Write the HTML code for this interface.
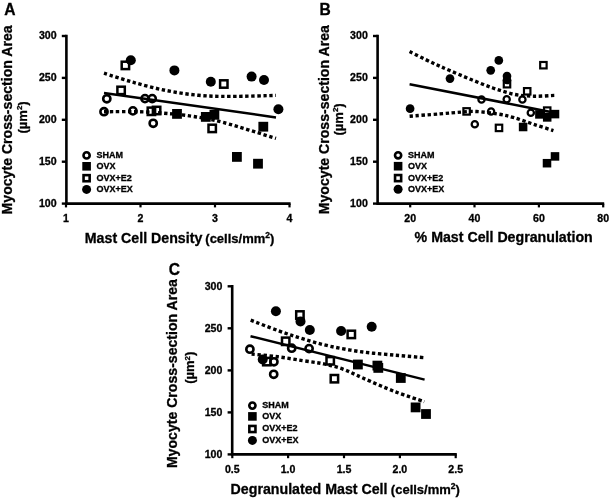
<!DOCTYPE html>
<html><head><meta charset="utf-8"><style>
html,body{margin:0;padding:0;background:#fff;overflow:hidden;width:610px;height:499px;}
svg{display:block;will-change:transform;}
text{font-family:"Liberation Sans", sans-serif;font-weight:bold;fill:#000;stroke:#000;stroke-width:0.3px;}
.tk{font-size:10.6px;}
.lg{font-size:9px;}
.tt{font-size:14.2px;}
.st{font-size:13px;}
.st2{font-size:13px;}
.pl{font-size:15.6px;}
.yt{font-size:14.1px;}
.dash{fill:none;stroke:#000;stroke-width:3.4;stroke-dasharray:3.4 2.6;}
.sol{fill:none;stroke:#000;stroke-width:2.5;}
</style></head><body>
<svg width="610" height="499" viewBox="0 0 610 499">
<rect width="610" height="499" fill="#fff"/>
<path d="M66.4,34.8 V203.6 H290.6" fill="none" stroke="#000" stroke-width="2.6"/>
<line x1="61.800000000000004" y1="36.0" x2="66.4" y2="36.0" stroke="#000" stroke-width="2.4"/>
<text x="56.60000000000001" y="39.3" text-anchor="end" class="tk">300</text>
<line x1="61.800000000000004" y1="77.9" x2="66.4" y2="77.9" stroke="#000" stroke-width="2.4"/>
<text x="56.60000000000001" y="81.2" text-anchor="end" class="tk">250</text>
<line x1="61.800000000000004" y1="119.8" x2="66.4" y2="119.8" stroke="#000" stroke-width="2.4"/>
<text x="56.60000000000001" y="123.1" text-anchor="end" class="tk">200</text>
<line x1="61.800000000000004" y1="161.7" x2="66.4" y2="161.7" stroke="#000" stroke-width="2.4"/>
<text x="56.60000000000001" y="165.0" text-anchor="end" class="tk">150</text>
<line x1="61.800000000000004" y1="203.6" x2="66.4" y2="203.6" stroke="#000" stroke-width="2.4"/>
<text x="56.60000000000001" y="206.9" text-anchor="end" class="tk">100</text>
<line x1="66.0" y1="203.6" x2="66.0" y2="207.4" stroke="#000" stroke-width="2.2"/>
<text x="66.0" y="222.0" text-anchor="middle" class="tk">1</text>
<line x1="140.5" y1="203.6" x2="140.5" y2="207.4" stroke="#000" stroke-width="2.2"/>
<text x="140.5" y="222.0" text-anchor="middle" class="tk">2</text>
<line x1="215.0" y1="203.6" x2="215.0" y2="207.4" stroke="#000" stroke-width="2.2"/>
<text x="215.0" y="222.0" text-anchor="middle" class="tk">3</text>
<line x1="289.5" y1="203.6" x2="289.5" y2="207.4" stroke="#000" stroke-width="2.2"/>
<text x="289.5" y="222.0" text-anchor="middle" class="tk">4</text>
<text x="4.3" y="15.0" class="pl">A</text>
<text transform="translate(12.2,119.9) rotate(-90)" text-anchor="middle" class="tt yt">Myocyte Cross-section Area</text>
<text transform="translate(26.6,117.4) rotate(-90)" text-anchor="middle" class="st">(&#181;m<tspan dy="-4.5" font-size="8">2</tspan><tspan dy="4.5">)</tspan></text>
<text x="84.8" y="242.7" class="tt">Mast Cell Density <tspan class="st2" dx="-0.9">(cells/mm<tspan dy="-5" font-size="8.5">2</tspan><tspan dy="5">)</tspan></tspan></text>
<circle cx="86.6" cy="155.4" r="3.1" fill="#fff" stroke="#000" stroke-width="2.6"/>
<rect x="82.3" y="162.0" width="8.6" height="8.6" fill="#000"/>
<rect x="83.55" y="175.15" width="6.1" height="6.1" fill="#fff" stroke="#000" stroke-width="2.6"/>
<circle cx="86.6" cy="189.4" r="4.5" fill="#000"/>
<text x="96.5" y="157.8" class="lg">SHAM</text>
<text x="96.5" y="168.70000000000002" class="lg">OVX</text>
<text x="96.5" y="180.60000000000002" class="lg">OVX+E2</text>
<text x="96.5" y="191.8" class="lg">OVX+EX</text>
<circle cx="106.8" cy="98.8" r="3.60" fill="none" stroke="#000" stroke-width="2.60"/>
<circle cx="145" cy="98.6" r="3.60" fill="none" stroke="#000" stroke-width="2.60"/>
<circle cx="152.2" cy="98.6" r="3.60" fill="none" stroke="#000" stroke-width="2.60"/>
<circle cx="104" cy="111.7" r="3.60" fill="none" stroke="#000" stroke-width="2.60"/>
<circle cx="132.9" cy="110.9" r="3.60" fill="none" stroke="#000" stroke-width="2.60"/>
<circle cx="153.2" cy="123.3" r="3.60" fill="none" stroke="#000" stroke-width="2.60"/>
<rect x="172.10" y="109.00" width="9.80" height="9.80" fill="#000"/>
<rect x="200.90" y="112.00" width="9.80" height="9.80" fill="#000"/>
<rect x="209.50" y="109.90" width="9.80" height="9.80" fill="#000"/>
<rect x="258.40" y="121.80" width="9.80" height="9.80" fill="#000"/>
<rect x="232.00" y="152.00" width="9.80" height="9.80" fill="#000"/>
<rect x="253.10" y="158.80" width="9.80" height="9.80" fill="#000"/>
<rect x="121.70" y="61.70" width="7.40" height="7.40" fill="none" stroke="#000" stroke-width="2.50"/>
<rect x="117.40" y="86.70" width="7.40" height="7.40" fill="none" stroke="#000" stroke-width="2.50"/>
<rect x="220.10" y="80.30" width="7.40" height="7.40" fill="none" stroke="#000" stroke-width="2.50"/>
<rect x="147.70" y="107.60" width="7.40" height="7.40" fill="none" stroke="#000" stroke-width="2.50"/>
<rect x="152.90" y="106.80" width="7.40" height="7.40" fill="none" stroke="#000" stroke-width="2.50"/>
<rect x="208.50" y="124.70" width="7.40" height="7.40" fill="none" stroke="#000" stroke-width="2.50"/>
<circle cx="130.8" cy="60.2" r="5.00" fill="#000"/>
<circle cx="174.4" cy="70.4" r="5.00" fill="#000"/>
<circle cx="210.8" cy="81.8" r="5.00" fill="#000"/>
<circle cx="251.6" cy="76.6" r="5.00" fill="#000"/>
<circle cx="264" cy="80.0" r="5.00" fill="#000"/>
<circle cx="278.4" cy="109.2" r="5.00" fill="#000"/>
<path d="M104.0,73.2 C108.8,74.7 122.5,79.3 132.8,82.2 C143.1,85.1 154.7,88.2 165.6,90.4 C176.5,92.6 187.5,94.3 198.4,95.3 C209.3,96.3 218.1,96.4 231.0,96.4 C243.9,96.4 268.5,95.6 276.0,95.4" class="dash"/>
<path d="M104.0,111.7 C110.7,111.7 132.7,111.5 144.0,111.9 C155.3,112.3 163.8,113.2 172.0,113.9 C180.2,114.7 184.5,115.0 193.0,116.4 C201.5,117.8 209.0,118.6 222.8,122.3 C236.6,126.0 267.1,135.7 276.0,138.4" class="dash"/>
<line x1="104" y1="92.9" x2="276" y2="117.4" class="sol"/>
<path d="M377.6,34.8 V203.6 H604.2" fill="none" stroke="#000" stroke-width="2.6"/>
<line x1="373.0" y1="36.0" x2="377.6" y2="36.0" stroke="#000" stroke-width="2.4"/>
<text x="367.8" y="39.3" text-anchor="end" class="tk">300</text>
<line x1="373.0" y1="77.9" x2="377.6" y2="77.9" stroke="#000" stroke-width="2.4"/>
<text x="367.8" y="81.2" text-anchor="end" class="tk">250</text>
<line x1="373.0" y1="119.8" x2="377.6" y2="119.8" stroke="#000" stroke-width="2.4"/>
<text x="367.8" y="123.1" text-anchor="end" class="tk">200</text>
<line x1="373.0" y1="161.7" x2="377.6" y2="161.7" stroke="#000" stroke-width="2.4"/>
<text x="367.8" y="165.0" text-anchor="end" class="tk">150</text>
<line x1="373.0" y1="203.6" x2="377.6" y2="203.6" stroke="#000" stroke-width="2.4"/>
<text x="367.8" y="206.9" text-anchor="end" class="tk">100</text>
<line x1="410.2" y1="203.6" x2="410.2" y2="207.4" stroke="#000" stroke-width="2.2"/>
<text x="410.2" y="222.0" text-anchor="middle" class="tk">20</text>
<line x1="474.5" y1="203.6" x2="474.5" y2="207.4" stroke="#000" stroke-width="2.2"/>
<text x="474.5" y="222.0" text-anchor="middle" class="tk">40</text>
<line x1="538.9" y1="203.6" x2="538.9" y2="207.4" stroke="#000" stroke-width="2.2"/>
<text x="538.9" y="222.0" text-anchor="middle" class="tk">60</text>
<line x1="603.2" y1="203.6" x2="603.2" y2="207.4" stroke="#000" stroke-width="2.2"/>
<text x="603.2" y="222.0" text-anchor="middle" class="tk">80</text>
<text x="319.4" y="14.9" class="pl">B</text>
<text transform="translate(328.6,119.7) rotate(-90)" text-anchor="middle" class="tt yt">Myocyte Cross-section Area</text>
<text transform="translate(342.7,119.4) rotate(-90)" text-anchor="middle" class="st">(&#181;m<tspan dy="-4.5" font-size="8">2</tspan><tspan dy="4.5">)</tspan></text>
<text x="414.6" y="242.3" class="tt">% Mast Cell Degranulation</text>
<circle cx="398.1" cy="155.3" r="3.1" fill="#fff" stroke="#000" stroke-width="2.6"/>
<rect x="393.8" y="161.9" width="8.6" height="8.6" fill="#000"/>
<rect x="395.05" y="175.05" width="6.1" height="6.1" fill="#fff" stroke="#000" stroke-width="2.6"/>
<circle cx="398.1" cy="189.3" r="4.5" fill="#000"/>
<text x="408.0" y="157.70000000000002" class="lg">SHAM</text>
<text x="408.0" y="168.60000000000002" class="lg">OVX</text>
<text x="408.0" y="180.50000000000003" class="lg">OVX+E2</text>
<text x="408.0" y="191.70000000000002" class="lg">OVX+EX</text>
<circle cx="481.5" cy="99.5" r="3.13" fill="none" stroke="#000" stroke-width="2.26"/>
<circle cx="506.7" cy="99.2" r="3.13" fill="none" stroke="#000" stroke-width="2.26"/>
<circle cx="522.4" cy="99.5" r="3.13" fill="none" stroke="#000" stroke-width="2.26"/>
<circle cx="491.1" cy="111.5" r="3.13" fill="none" stroke="#000" stroke-width="2.26"/>
<circle cx="474.8" cy="124.3" r="3.13" fill="none" stroke="#000" stroke-width="2.26"/>
<circle cx="530.8" cy="112.8" r="3.13" fill="none" stroke="#000" stroke-width="2.26"/>
<rect x="535.14" y="110.14" width="8.53" height="8.53" fill="#000"/>
<rect x="542.94" y="113.14" width="8.53" height="8.53" fill="#000"/>
<rect x="550.74" y="109.84" width="8.53" height="8.53" fill="#000"/>
<rect x="518.84" y="122.74" width="8.53" height="8.53" fill="#000"/>
<rect x="550.74" y="152.14" width="8.53" height="8.53" fill="#000"/>
<rect x="542.74" y="158.94" width="8.53" height="8.53" fill="#000"/>
<rect x="463.38" y="108.18" width="6.44" height="6.44" fill="none" stroke="#000" stroke-width="2.17"/>
<rect x="503.78" y="80.98" width="6.44" height="6.44" fill="none" stroke="#000" stroke-width="2.17"/>
<rect x="540.18" y="61.98" width="6.44" height="6.44" fill="none" stroke="#000" stroke-width="2.17"/>
<rect x="523.98" y="88.08" width="6.44" height="6.44" fill="none" stroke="#000" stroke-width="2.17"/>
<rect x="543.98" y="107.38" width="6.44" height="6.44" fill="none" stroke="#000" stroke-width="2.17"/>
<rect x="495.78" y="124.68" width="6.44" height="6.44" fill="none" stroke="#000" stroke-width="2.17"/>
<circle cx="410.1" cy="108.7" r="4.35" fill="#000"/>
<circle cx="450" cy="78.6" r="4.35" fill="#000"/>
<circle cx="490.7" cy="70.3" r="4.35" fill="#000"/>
<circle cx="498.8" cy="60.4" r="4.35" fill="#000"/>
<circle cx="507" cy="76.0" r="4.35" fill="#000"/>
<circle cx="507" cy="80.0" r="4.35" fill="#000"/>
<path d="M409.6,51.6 C413.5,53.5 426.2,59.9 432.8,63.0 C439.4,66.1 442.9,67.6 449.2,70.3 C455.5,73.0 463.2,76.3 470.5,79.3 C477.8,82.2 485.6,85.5 492.8,88.0 C500.1,90.5 507.2,92.9 514.0,94.3 C520.8,95.7 527.1,96.0 533.8,96.2 C540.5,96.4 550.9,95.5 554.3,95.4" class="dash"/>
<path d="M409.6,116.2 C414.6,115.8 431.0,114.6 439.8,113.9 C448.6,113.2 456.2,112.4 462.3,112.0 C468.4,111.6 470.5,111.2 476.4,111.5 C482.3,111.8 491.4,113.0 497.7,114.0 C504.0,115.0 508.1,116.0 514.1,117.7 C520.1,119.4 527.2,122.2 533.8,124.3 C540.3,126.4 550.1,129.5 553.4,130.6" class="dash"/>
<line x1="409.6" y1="84.2" x2="553.4" y2="112.4" class="sol"/>
<path d="M232.2,285.1 V454.4 H456.8" fill="none" stroke="#000" stroke-width="2.6"/>
<line x1="227.6" y1="286.3" x2="232.2" y2="286.3" stroke="#000" stroke-width="2.4"/>
<text x="222.39999999999998" y="289.6" text-anchor="end" class="tk">300</text>
<line x1="227.6" y1="328.3" x2="232.2" y2="328.3" stroke="#000" stroke-width="2.4"/>
<text x="222.39999999999998" y="331.6" text-anchor="end" class="tk">250</text>
<line x1="227.6" y1="370.4" x2="232.2" y2="370.4" stroke="#000" stroke-width="2.4"/>
<text x="222.39999999999998" y="373.7" text-anchor="end" class="tk">200</text>
<line x1="227.6" y1="412.4" x2="232.2" y2="412.4" stroke="#000" stroke-width="2.4"/>
<text x="222.39999999999998" y="415.7" text-anchor="end" class="tk">150</text>
<line x1="227.6" y1="454.4" x2="232.2" y2="454.4" stroke="#000" stroke-width="2.4"/>
<text x="222.39999999999998" y="457.7" text-anchor="end" class="tk">100</text>
<line x1="232.3" y1="454.4" x2="232.3" y2="458.2" stroke="#000" stroke-width="2.2"/>
<text x="232.3" y="472.79999999999995" text-anchor="middle" class="tk">0.5</text>
<line x1="288.1" y1="454.4" x2="288.1" y2="458.2" stroke="#000" stroke-width="2.2"/>
<text x="288.1" y="472.79999999999995" text-anchor="middle" class="tk">1.0</text>
<line x1="344.0" y1="454.4" x2="344.0" y2="458.2" stroke="#000" stroke-width="2.2"/>
<text x="344.0" y="472.79999999999995" text-anchor="middle" class="tk">1.5</text>
<line x1="399.9" y1="454.4" x2="399.9" y2="458.2" stroke="#000" stroke-width="2.2"/>
<text x="399.9" y="472.79999999999995" text-anchor="middle" class="tk">2.0</text>
<line x1="455.7" y1="454.4" x2="455.7" y2="458.2" stroke="#000" stroke-width="2.2"/>
<text x="455.7" y="472.79999999999995" text-anchor="middle" class="tk">2.5</text>
<text x="168.7" y="274.9" class="pl">C</text>
<text transform="translate(177.0,373.6) rotate(-90)" text-anchor="middle" class="tt yt">Myocyte Cross-section Area</text>
<text transform="translate(194.1,367.7) rotate(-90)" text-anchor="middle" class="st">(&#181;m<tspan dy="-4.5" font-size="8">2</tspan><tspan dy="4.5">)</tspan></text>
<text x="230.6" y="493.8" class="tt">Degranulated Mast Cell <tspan class="st2" dx="-0.6">(cells/mm<tspan dy="-5" font-size="8.5">2</tspan><tspan dy="5">)</tspan></tspan></text>
<circle cx="252.4" cy="405.6" r="3.1" fill="#fff" stroke="#000" stroke-width="2.6"/>
<rect x="248.1" y="412.1" width="8.6" height="8.6" fill="#000"/>
<rect x="249.35" y="425.95" width="6.1" height="6.1" fill="#fff" stroke="#000" stroke-width="2.6"/>
<circle cx="252.4" cy="440.40000000000003" r="4.5" fill="#000"/>
<text x="262.3" y="408.0" class="lg">SHAM</text>
<text x="262.3" y="418.8" class="lg">OVX</text>
<text x="262.3" y="431.4" class="lg">OVX+E2</text>
<text x="262.3" y="442.8" class="lg">OVX+EX</text>
<circle cx="249.9" cy="349.2" r="3.60" fill="none" stroke="#000" stroke-width="2.60"/>
<circle cx="291.7" cy="348.2" r="3.60" fill="none" stroke="#000" stroke-width="2.60"/>
<circle cx="309.1" cy="348.6" r="3.60" fill="none" stroke="#000" stroke-width="2.60"/>
<circle cx="273.9" cy="361.8" r="3.60" fill="none" stroke="#000" stroke-width="2.60"/>
<circle cx="273.7" cy="374.3" r="3.60" fill="none" stroke="#000" stroke-width="2.60"/>
<rect x="353.00" y="359.60" width="9.80" height="9.80" fill="#000"/>
<rect x="372.50" y="360.70" width="9.80" height="9.80" fill="#000"/>
<rect x="373.40" y="363.00" width="9.80" height="9.80" fill="#000"/>
<rect x="395.90" y="373.10" width="9.80" height="9.80" fill="#000"/>
<rect x="410.70" y="402.50" width="9.80" height="9.80" fill="#000"/>
<rect x="421.10" y="409.10" width="9.80" height="9.80" fill="#000"/>
<rect x="296.20" y="311.30" width="7.40" height="7.40" fill="none" stroke="#000" stroke-width="2.50"/>
<rect x="282.00" y="337.60" width="7.40" height="7.40" fill="none" stroke="#000" stroke-width="2.50"/>
<rect x="263.10" y="357.90" width="7.40" height="7.40" fill="none" stroke="#000" stroke-width="2.50"/>
<rect x="347.60" y="330.70" width="7.40" height="7.40" fill="none" stroke="#000" stroke-width="2.50"/>
<rect x="326.50" y="357.10" width="7.40" height="7.40" fill="none" stroke="#000" stroke-width="2.50"/>
<rect x="330.70" y="375.00" width="7.40" height="7.40" fill="none" stroke="#000" stroke-width="2.50"/>
<circle cx="275.9" cy="311.2" r="5.00" fill="#000"/>
<circle cx="300.5" cy="321.4" r="5.00" fill="#000"/>
<circle cx="309.8" cy="330.0" r="5.00" fill="#000"/>
<circle cx="341.1" cy="331.0" r="5.00" fill="#000"/>
<circle cx="371.7" cy="326.8" r="5.00" fill="#000"/>
<circle cx="262.7" cy="359.5" r="5.00" fill="#000"/>
<path d="M250.7,320.2 C255.2,321.9 269.2,327.4 277.8,330.5 C286.4,333.6 293.7,336.1 302.4,338.7 C311.1,341.3 319.9,344.0 330.0,346.2 C340.1,348.4 351.9,350.5 362.8,352.0 C373.7,353.5 385.4,354.2 395.6,355.2 C405.9,356.1 419.5,357.3 424.3,357.7" class="dash"/>
<path d="M251.6,354.0 C256.0,354.5 269.3,355.7 277.8,356.8 C286.3,357.9 294.8,359.4 302.4,360.6 C310.0,361.8 316.9,362.4 323.7,363.9 C330.5,365.3 336.9,366.9 343.4,369.3 C349.9,371.7 354.1,374.2 362.8,378.0 C371.5,381.8 385.4,388.0 395.6,391.9 C405.9,395.8 419.5,400.0 424.3,401.6" class="dash"/>
<line x1="250.5" y1="336.2" x2="424.6" y2="379.6" class="sol"/>
</svg>
</body></html>
